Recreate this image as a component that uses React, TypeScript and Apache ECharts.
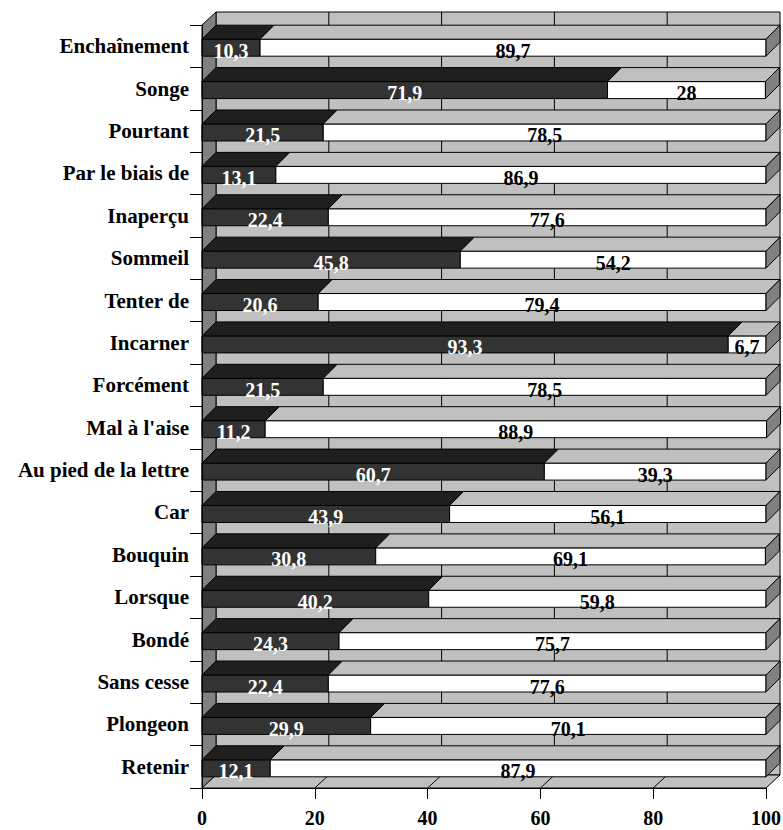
import React, { useEffect, useRef } from "react";
import * as echarts from "echarts";

const categories = [
  "Enchaînement", "Songe", "Pourtant", "Par le biais de", "Inaperçu", "Sommeil",
  "Tenter de", "Incarner", "Forcément", "Mal à l'aise", "Au pied de la lettre",
  "Car", "Bouquin", "Lorsque", "Bondé", "Sans cesse", "Plongeon", "Retenir",
];
const darkValues = [10.3, 71.9, 21.5, 13.1, 22.4, 45.8, 20.6, 93.3, 21.5, 11.2, 60.7, 43.9, 30.8, 40.2, 24.3, 22.4, 29.9, 12.1];
const whiteValues = [89.7, 28, 78.5, 86.9, 77.6, 54.2, 79.4, 6.7, 78.5, 88.9, 39.3, 56.1, 69.1, 59.8, 75.7, 77.6, 70.1, 87.9];
const gridTicks = [20, 40, 60, 80];

const FONT = '"Liberation Serif", "Times New Roman", serif';
const DX = 14;
const DYW = 13;
const DYB = 14;

const fmt = (v: number) => String(v).replace(".", ",");

export default function App() {
  const ref = useRef<HTMLDivElement>(null);
  useEffect(() => {
    if (!ref.current) return;
    const chart = echarts.init(ref.current, null, { renderer: "svg" });
    const barData = categories.map((_, i) => [i, darkValues[i], whiteValues[i], darkValues[i] + whiteValues[i]]);

    const option: any = {
      animation: false,
      backgroundColor: "#ffffff",
      grid: { left: 202, right: 17, top: 25, bottom: 42, containLabel: false, outerBoundsMode: "none" },
      xAxis: {
        type: "value",
        min: 0,
        max: 100,
        interval: 20,
        z: 10,
        axisLine: { show: true, lineStyle: { color: "#000", width: 1 } },
        axisTick: { show: true, length: 11, lineStyle: { color: "#000" } },
        axisLabel: {
          color: "#000",
          fontFamily: FONT,
          fontWeight: "bold",
          fontSize: 20,
          lineHeight: 20,
          margin: 20,
        },
        splitLine: { show: false },
      },
      yAxis: {
        type: "category",
        inverse: true,
        data: categories,
        z: 10,
        axisLine: { show: true, lineStyle: { color: "#000", width: 1 } },
        axisTick: { show: true, length: 12, lineStyle: { color: "#000" } },
        axisLabel: {
          color: "#000",
          fontFamily: FONT,
          fontWeight: "bold",
          fontSize: 21,
          margin: 13,
          padding: [8, 0, 0, 0],
        },
        splitLine: { show: false },
      },
      series: [
        {
          type: "custom",
          z: 1,
          silent: true,
          data: [[0, 0]],
          encode: { x: 0, y: 1 },
          renderItem: (params: any, api: any) => {
            const cs = params.coordSys;
            const l = cs.x;
            const t = cs.y;
            const r = cs.x + cs.width;
            const b = cs.y + cs.height;
            const stroke = { stroke: "#000", lineWidth: 1 };
            const children: any[] = [
              {
                type: "rect",
                shape: { x: l + DX, y: t - DYW, width: cs.width, height: cs.height },
                style: { fill: "#c0c0c0", ...stroke },
              },
              {
                type: "polygon",
                shape: { points: [[l, t], [l + DX, t - DYW], [l + DX, b - DYW], [l, b]] },
                style: { fill: "#808080", ...stroke },
              },
              {
                type: "polygon",
                shape: { points: [[l, b], [l + DX, b - DYW], [r + DX, b - DYW], [r, b]] },
                style: { fill: "#c0c0c0", ...stroke },
              },
            ];
            gridTicks.forEach((tv) => {
              const x = api.coord([tv, 0])[0];
              children.push({
                type: "line",
                shape: { x1: x + DX, y1: t - DYW, x2: x + DX, y2: b - DYW },
                style: { ...stroke },
              });
              children.push({
                type: "line",
                shape: { x1: x, y1: b, x2: x + DX, y2: b - DYW },
                style: { ...stroke },
              });
            });
            return { type: "group", children };
          },
        },
        {
          type: "custom",
          z: 2,
          silent: true,
          data: barData,
          encode: { x: [1, 3], y: 0 },
          renderItem: (params: any, api: any) => {
            const idx = api.value(0);
            const dark = api.value(1);
            const white = api.value(2);
            const [x0, cy] = api.coord([0, idx]);
            const x1 = api.coord([dark, idx])[0];
            const x2 = api.coord([dark + white, idx])[0];
            const top = cy - 7;
            const bot = cy + 10;
            const h = bot - top;
            const stroke = { stroke: "#000", lineWidth: 1 };
            const ly = cy + 4.5;
            return {
              type: "group",
              children: [
                {
                  type: "rect",
                  shape: { x: x0, y: top, width: x1 - x0, height: h },
                  style: { fill: "#333333", ...stroke },
                },
                {
                  type: "polygon",
                  shape: { points: [[x0, top], [x0 + DX, top - DYB], [x1 + DX, top - DYB], [x1, top]] },
                  style: { fill: "#1f1f1f", ...stroke },
                },
                {
                  type: "rect",
                  shape: { x: x1, y: top, width: x2 - x1, height: h },
                  style: { fill: "#ffffff", ...stroke },
                },
                {
                  type: "polygon",
                  shape: { points: [[x1, top], [x1 + DX, top - DYB], [x2 + DX, top - DYB], [x2, top]] },
                  style: { fill: "#c0c0c0", ...stroke },
                },
                {
                  type: "polygon",
                  shape: { points: [[x2, top], [x2 + DX, top - DYB], [x2 + DX, bot - DYB], [x2, bot]] },
                  style: { fill: "#808080", ...stroke },
                },
                {
                  type: "text",
                  x: (x0 + x1) / 2,
                  y: ly,
                  style: {
                    text: fmt(dark),
                    fill: "#ffffff",
                    font: `bold 20px ${FONT}`,
                    align: "center",
                    verticalAlign: "middle",
                  },
                },
                {
                  type: "text",
                  x: (x1 + x2) / 2,
                  y: ly,
                  style: {
                    text: fmt(white),
                    fill: "#000000",
                    font: `bold 20px ${FONT}`,
                    align: "center",
                    verticalAlign: "middle",
                  },
                },
              ],
            };
          },
        },
      ],
    };
    chart.setOption(option);
    return () => chart.dispose();
  }, []);

  return (
    <div
      ref={ref}
      style={{ position: "fixed", left: 0, top: 0, width: 783, height: 830, background: "#fff" }}
    />
  );
}
